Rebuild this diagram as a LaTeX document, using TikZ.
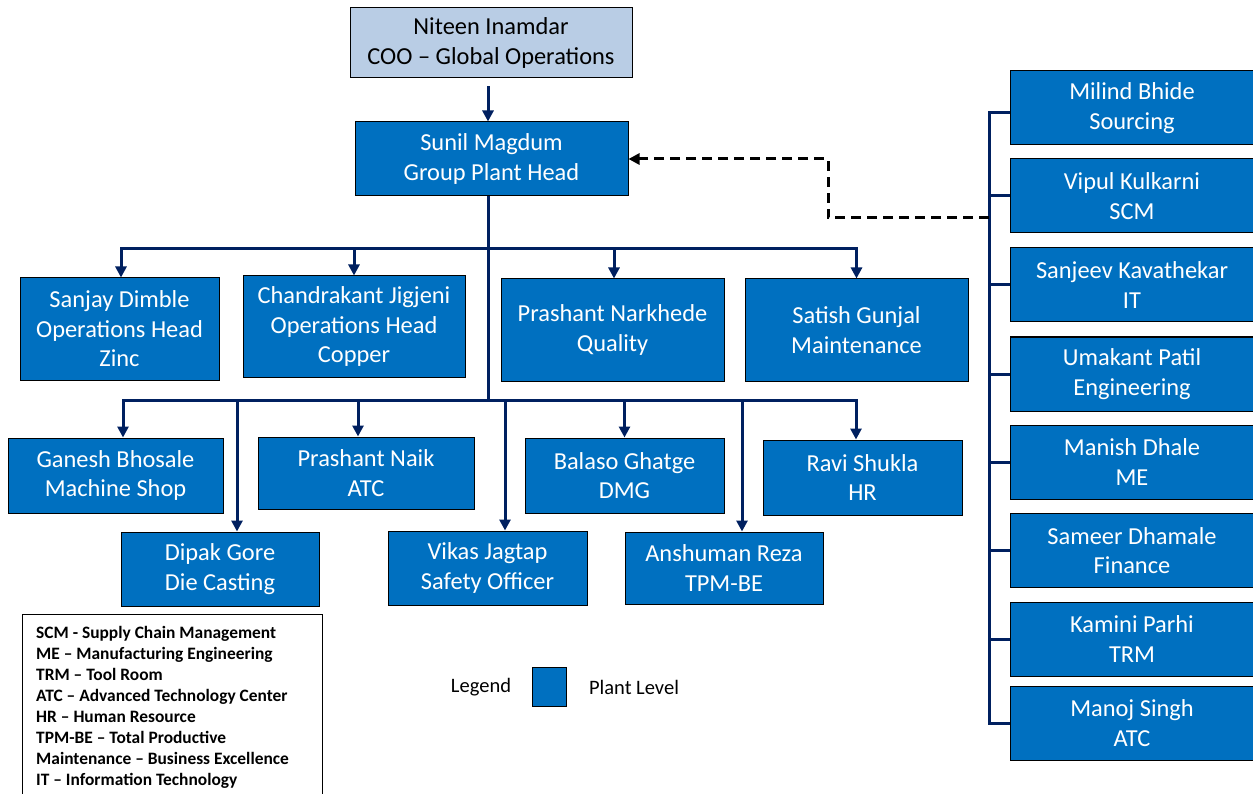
\documentclass[tikz,border=0pt]{standalone}
\usepackage{fontspec}
\setmainfont{Carlito}
\usetikzlibrary{positioning,arrows.meta}
\definecolor{plantblue}{HTML}{0070C0}
\definecolor{coofill}{HTML}{B9CDE5}
\definecolor{linkblue}{HTML}{002060}

\begin{document}
\begin{tikzpicture}[x=1pt,y=-1pt,
    box/.style={draw=black,line width=1pt,fill=plantblue,text=white,align=center,inner sep=0pt,font=\fontsize{24.4}{29.5}\selectfont},
    topbox/.style={box,fill=coofill,text=black},
    link/.style={draw=linkblue,line width=3pt},
    arr/.style={link,-{Triangle[length=11pt,width=11pt]}},
    dashlink/.style={draw=black,line width=3pt,dash pattern=on 10pt off 6pt,-{Triangle[length=11pt,width=11pt]}}]
  \useasboundingbox (0,0) rectangle (1253,794);

  % top
  \node[topbox,minimum width=282,minimum height=70] (coo) at (491,43) {Niteen Inamdar\\COO -- Global Operations};
  \node[box,minimum width=273,minimum height=74] (plant) at (491.5,159) {Sunil Magdum\\Group Plant Head};

  % first row
  \node[box,minimum width=199,minimum height=102] (zinc) at (119.5,329) {Sanjay Dimble\\Operations Head\\Zinc};
  \node[box,minimum width=222,minimum height=101] (copper) at (354,326.5) {Chandrakant Jigjeni\\Operations Head\\Copper};
  \node[box,minimum width=223,minimum height=102] (quality) at (612.5,330) {Prashant Narkhede\\Quality};
  \node[box,minimum width=223,minimum height=102] (maint) at (856.5,330) {Satish Gunjal\\Maintenance};

  % second row
  \node[box,minimum width=215,minimum height=75] (mshop) at (115.5,475.5) {Ganesh Bhosale\\Machine Shop};
  \node[box,minimum width=198,minimum height=74] (diecast) at (220,569) {Dipak Gore\\Die Casting};
  \node[box,minimum width=216,minimum height=72] (atc) at (366,473) {Prashant Naik\\ATC};
  \node[box,minimum width=199,minimum height=74] (safety) at (487.5,568) {Vikas Jagtap\\Safety Officer};
  \node[box,minimum width=199,minimum height=75] (dmg) at (624.5,475.5) {Balaso Ghatge\\DMG};
  \node[box,minimum width=198,minimum height=72] (tpm) at (724,568) {Anshuman Reza\\TPM-BE};
  \node[box,minimum width=199,minimum height=75] (hr) at (862.5,477.5) {Ravi Shukla\\HR};

  % right column
  \node[box,minimum width=244,minimum height=74] (sourcing) at (1132,108) {Milind Bhide\\Sourcing};
  \node[box,minimum width=244,minimum height=74] (scm) at (1132,196) {Vipul Kulkarni\\SCM};
  \node[box,minimum width=244,minimum height=74] (it) at (1132,285) {Sanjeev Kavathekar\\IT};
  \node[box,minimum width=244,minimum height=74] (engg) at (1132,374) {Umakant Patil\\Engineering};
  \node[box,minimum width=244,minimum height=74] (me) at (1132,462) {Manish Dhale\\ME};
  \node[box,minimum width=244,minimum height=74] (finance) at (1132,550.5) {Sameer Dhamale\\Finance};
  \node[box,minimum width=244,minimum height=74] (trm) at (1132,639) {Kamini Parhi\\TRM};
  \node[box,minimum width=244,minimum height=74] (atc2) at (1132,723) {Manoj Singh\\ATC};

  % legend
  \node[font=\fontsize{20.5}{24}\selectfont] (legtext) at (481,687) {Legend};
  \node[box,minimum width=34,minimum height=39] (legbox) at (549,686.5) {};
  \node[font=\fontsize{20.5}{24}\selectfont] (legplant) at (634,687) {Plant Level};
  \draw[line width=1pt] (22,800) -- (22,614) -- (322,614) -- (322,800);
  \node[anchor=north west,align=left,inner sep=0pt,font=\bfseries\fontsize{17.4}{21}\selectfont] (abbr) at (36,626)
    {SCM - Supply Chain Management\\ME -- Manufacturing Engineering\\TRM -- Tool Room\\ATC -- Advanced Technology Center\\HR -- Human Resource\\TPM-BE -- Total Productive\\Maintenance -- Business Excellence\\IT -- Information Technology};

  % connectors
  \coordinate (bus1) at (488,249);
  \coordinate (bus2) at (488,400);
  \coordinate (rbus) at (989,218);
  \draw[arr,shorten <=8pt] (coo.south -| bus1) -- (plant.north -| bus1);
  \draw[link] (plant.south -| bus1) -- (bus2);
  \draw[arr] (bus1) -| ([xshift=1.5]zinc.north);
  \draw[arr] (bus1) -| (copper.north);
  \draw[arr] (bus1) -| ([xshift=1.5]quality.north);
  \draw[arr] (bus1) -| (maint.north);
  \draw[arr] (bus2) -| ([xshift=7.5]mshop.north);
  \draw[arr] (bus2) -| ([xshift=17]diecast.north);
  \draw[arr] (bus2) -| ([xshift=-8]atc.north);
  \draw[arr] (bus2) -| ([xshift=17.5]safety.north);
  \draw[arr] (bus2) -| (dmg.north);
  \draw[arr] (bus2) -| ([xshift=18]tpm.north);
  \draw[arr] (bus2) -| ([xshift=-6.5]hr.north);
  \draw[link] ([yshift=-5]sourcing.west) -| (rbus) |- (atc2.west);
  \draw[link] (scm.west) -- (scm.west -| rbus);
  \draw[link] (it.west) -- (it.west -| rbus);
  \draw[link] (engg.west) -- (engg.west -| rbus);
  \draw[link] (me.west) -- (me.west -| rbus);
  \draw[link] (finance.west) -- (finance.west -| rbus);
  \draw[link] (trm.west) -- (trm.west -| rbus);
  \draw[dashlink] (rbus) -- ++(-161,0) |- (plant.east);
\end{tikzpicture}
\end{document}
